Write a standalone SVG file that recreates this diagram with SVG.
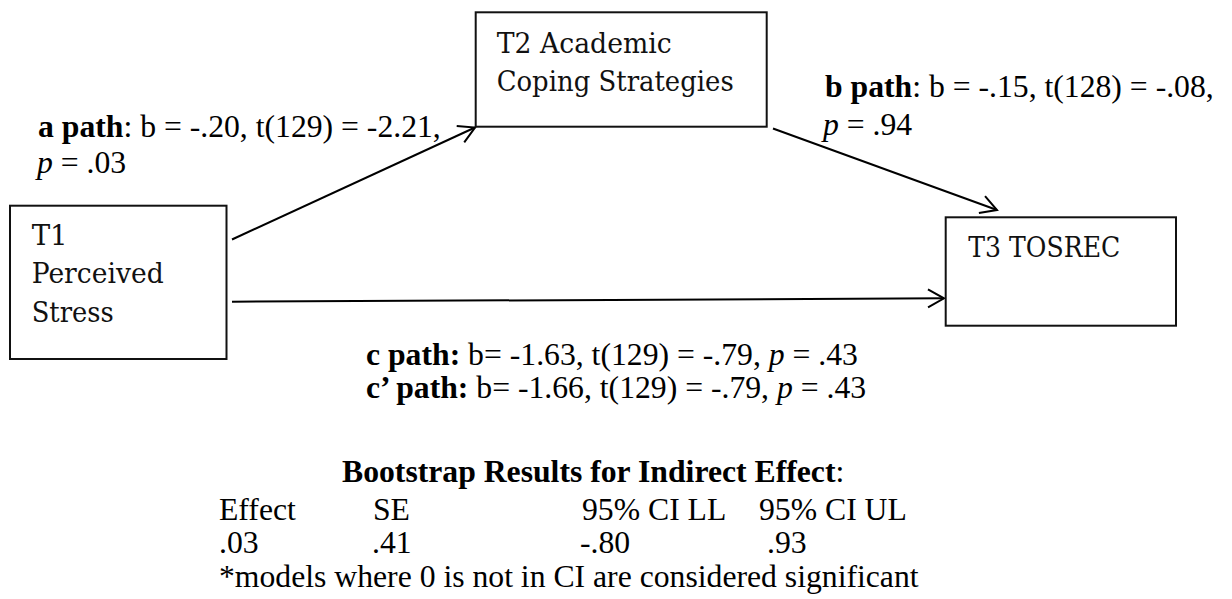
<svg xmlns="http://www.w3.org/2000/svg" width="1232" height="599" viewBox="0 0 1232 599">
  <style>
    .box { fill: #ffffff; stroke: #111111; stroke-width: 2; }
    .btxt { font-family: "DejaVu Serif", "Liberation Serif", serif; font-size: 28px; fill: #111111; }
    .lbl { font-family: "Liberation Serif", "Times New Roman", serif; font-size: 31.7px; fill: #000000; }
    .b { font-weight: bold; }
    .i { font-style: italic; }
    .conn { fill: none; stroke: #000000; stroke-width: 2; }
  </style>
  <defs>
    <marker id="arrow" markerUnits="userSpaceOnUse" viewBox="-2 -2 20 22" markerWidth="20" markerHeight="22" refX="16" refY="9" orient="auto">
      <path d="M0,0 L16,9 L0,18" fill="none" stroke="#000000" stroke-width="2"/>
    </marker>
  </defs>
  <rect width="1232" height="599" fill="#ffffff"/>

  <g id="connectors">
    <line class="conn" x1="232" y1="239.5" x2="475" y2="127.5" marker-end="url(#arrow)"/>
    <line class="conn" x1="773" y1="128.5" x2="997" y2="210" marker-end="url(#arrow)"/>
    <line class="conn" x1="232" y1="301.7" x2="944" y2="298.3" marker-end="url(#arrow)"/>
  </g>

  <g id="node-t1">
    <rect class="box" x="10" y="205.7" width="216.5" height="153.3"/>
    <text class="btxt" x="31.7" y="245" textLength="36" lengthAdjust="spacingAndGlyphs">T1</text>
    <text class="btxt" x="31.7" y="283.3" textLength="132" lengthAdjust="spacingAndGlyphs">Perceived</text>
    <text class="btxt" x="31.7" y="321.7" textLength="82" lengthAdjust="spacingAndGlyphs">Stress</text>
  </g>

  <g id="node-t2">
    <rect class="box" x="475.7" y="12.3" width="291" height="114.4"/>
    <text class="btxt" x="496.7" y="53.3" textLength="175" lengthAdjust="spacingAndGlyphs">T2 Academic</text>
    <text class="btxt" x="496.7" y="91" textLength="237" lengthAdjust="spacingAndGlyphs">Coping Strategies</text>
  </g>

  <g id="node-t3">
    <rect class="box" x="945.7" y="217.3" width="230.3" height="108.4"/>
    <text class="btxt" x="968.3" y="257" textLength="152" lengthAdjust="spacingAndGlyphs">T3 TOSREC</text>
  </g>

  <g id="labels">
    <text class="lbl" x="38" y="137.3"><tspan class="b">a path</tspan>: b = -.20, t(129) = -2.21,</text>
    <text class="lbl" x="37" y="173.3"><tspan class="i">p</tspan> = .03</text>
    <text class="lbl" x="825" y="97"><tspan class="b">b path</tspan>: b = -.15, t(128) = -.08,</text>
    <text class="lbl" x="823" y="135"><tspan class="i">p</tspan> = .94</text>
    <text class="lbl" x="366" y="365"><tspan class="b">c path:</tspan> b= -1.63, t(129) = -.79, <tspan class="i">p</tspan> = .43</text>
    <text class="lbl" x="366" y="398"><tspan class="b">c’ path:</tspan> b= -1.66, t(129) = -.79, <tspan class="i">p</tspan> = .43</text>
  </g>

  <g id="bootstrap">
    <text class="lbl" x="342" y="482"><tspan class="b">Bootstrap Results for Indirect Effect</tspan>:</text>
    <text class="lbl" x="219" y="520">Effect</text>
    <text class="lbl" x="373" y="520">SE</text>
    <text class="lbl" x="582" y="520">95% CI LL</text>
    <text class="lbl" x="759" y="520">95% CI UL</text>
    <text class="lbl" x="219" y="553">.03</text>
    <text class="lbl" x="372" y="553">.41</text>
    <text class="lbl" x="580" y="553">-.80</text>
    <text class="lbl" x="767" y="553">.93</text>
    <text class="lbl" x="219" y="587">*models where 0 is not in CI are considered significant</text>
  </g>
</svg>
